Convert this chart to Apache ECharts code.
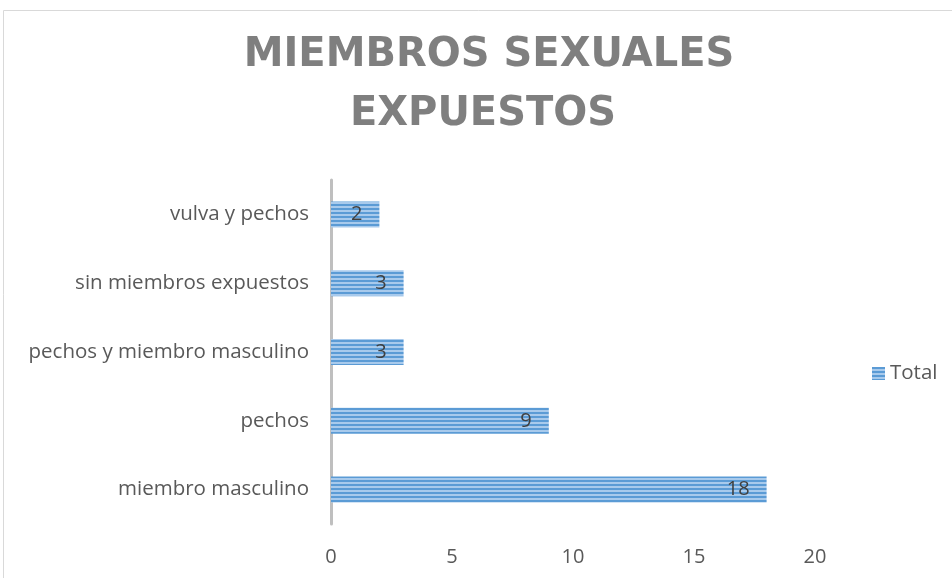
<!DOCTYPE html>
<html><head><meta charset="utf-8">
<script src="https://cdn.jsdelivr.net/npm/echarts@6/dist/echarts.min.js"></script>
<style>html,body{margin:0;padding:0;background:#fff}#c{width:952px;height:578px}</style>
</head><body><div id="c"></div>
<script>
const categories = ['miembro masculino','pechos','pechos y miembro masculino','sin miembros expuestos','vulva y pechos'];
const values = [18, 9, 3, 3, 2];
const xTicks = [0, 5, 10, 15, 20];
const seriesName = 'Total';
const titleLines = ['MIEMBROS SEXUALES', 'EXPUESTOS'];

function stripes(){
  const c = document.createElement('canvas');
  c.width = 8; c.height = 4;
  const g = c.getContext('2d');
  g.fillStyle = '#a8caec'; g.fillRect(0,0,8,4);
  g.fillStyle = '#5b9bd5'; g.fillRect(0,0,8,2);
  return c;
}
const pat = {image: stripes(), repeat: 'repeat'};
const titleStyle = {fontFamily: 'DejaVu Sans', fontWeight: 'bold', fontSize: 40, color: '#7f7f7f'};
const chart = echarts.init(document.getElementById('c'));
chart.setOption({
  animation: false,
  title: [
    {text: titleLines[0], left: 489, top: 36, textAlign: 'center', padding: 0, textStyle: titleStyle},
    {text: titleLines[1], left: 483, top: 95, textAlign: 'center', padding: 0, textStyle: titleStyle}
  ],
  graphic: [{type:'rect', shape:{x:3.5,y:10.5,width:960,height:600}, style:{fill:'none', stroke:'#d9d9d9', lineWidth:1}, silent:true}],
  legend: {data:[{name: seriesName, icon:'rect', itemStyle:{color: pat}}], orient:'vertical', left: 867, top: 358, itemWidth: 13, itemHeight: 13, itemGap: 5,
    textStyle:{fontFamily:'Open Sans', fontSize:20.5, color:'#595959'}},
  grid: {left: 331, right: 137, top: 180, bottom: 54},
  xAxis: {type:'value', min: xTicks[0], max: xTicks[xTicks.length-1], interval: 5,
    axisLine:{show:false}, axisTick:{show:false}, splitLine:{show:false},
    axisLabel:{fontFamily:'Open Sans', fontSize:20, color:'#595959', margin: 23}},
  yAxis: {type:'category', data: categories,
    axisLine:{show:true, lineStyle:{color:'#bfbfbf', width:3}}, axisTick:{show:false},
    axisLabel:{fontFamily:'Open Sans', fontSize:20.5, color:'#595959', margin: 22}},
  series: [{name: seriesName, type:'bar', data: values, barWidth: 26,
    itemStyle:{color: pat},
    label:{show:true, position:'insideRight', distance: 17, fontFamily:'Open Sans', fontSize:20, color:'#404040'}}]
});
</script></body></html>
